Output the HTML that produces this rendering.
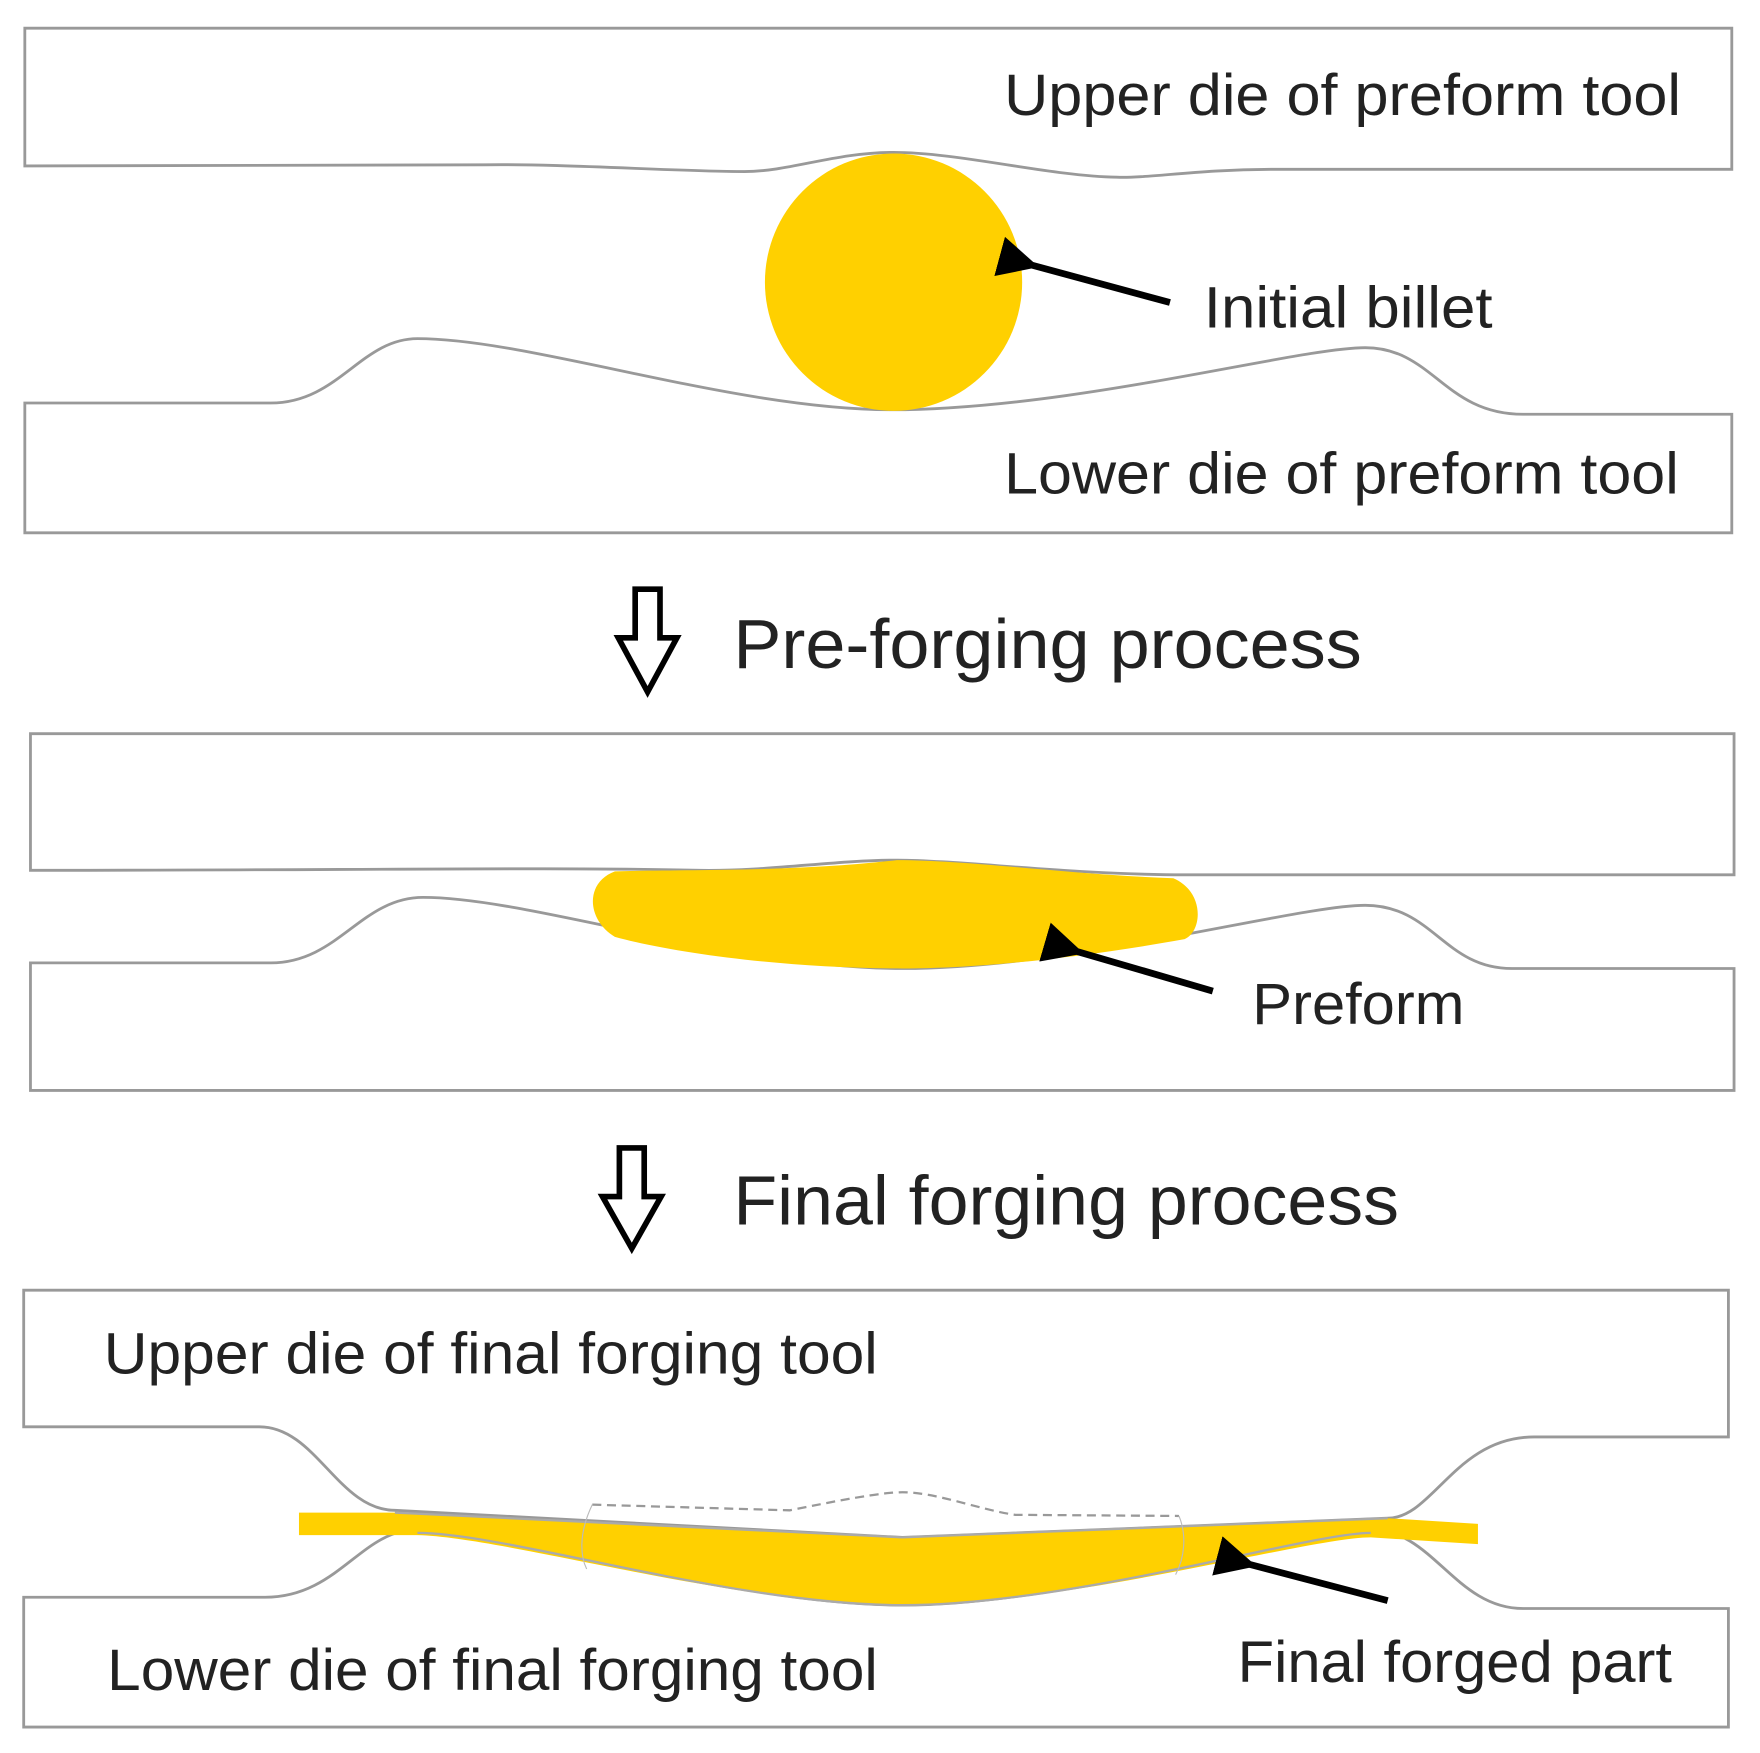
<!DOCTYPE html>
<html><head><style>html,body{margin:0;padding:0;background:#fff}svg{display:block}</style></head>
<body>
<svg width="1760" height="1753" viewBox="0 0 1560 1553" preserveAspectRatio="none" xmlns="http://www.w3.org/2000/svg" font-family="'Liberation Sans',sans-serif">
<defs><marker id="ah" markerWidth="6" markerHeight="6" refX="1" refY="3" orient="auto"><path d="M6,0 L0,3 L6,6 Z" fill="#000"/></marker></defs>
<g fill="#fff" stroke="#999" stroke-width="2.5">
<path d="M22,25 H1535 V150 H1130 C1060,150 1020,158 990,157 C930,156 850,135 792,135 C740,135 700,152 660,152 C600,152 500,145 430,146 L22,147 Z"/>
<path d="M22,357 H240 C300,357 320,300 370,300 C470,300 650,363 790,363 C950,363 1150,308 1210,308 C1270,308 1280,367 1350,367 H1535 V472 H22 Z"/>
<path d="M27,650 H1537 V775 H1050 C950,775 850,762 795,762 C740,762 680,772 620,771 C500,768 300,771 27,771 Z"/>
<path d="M27,853 H240 C300,853 320,795 375,795 C470,795 650,858 800,858 C950,858 1150,802 1210,802 C1270,802 1280,858 1340,858 H1537 V966 H27 Z"/>
<path d="M21,1143 H1532 V1273 H1360 C1290,1273 1270,1345 1230,1345 L800,1362 L350,1338 C300,1338 280,1264 230,1264 H21 Z"/>
<path d="M21,1415 H235 C300,1415 320,1355 370,1355 C450,1355 650,1422 800,1422 C950,1422 1160,1355 1215,1355 C1270,1355 1290,1425 1350,1425 H1532 V1530 H21 Z"/>
</g>
<circle cx="792" cy="250" r="114" fill="#FFD000"/>
<path d="M545,772 C600,770 700,773 795,762 C860,762 950,775 1040,778 C1068,790 1066,825 1050,832 C950,850 860,858 800,858 C700,858 600,845 545,830 C520,815 518,782 545,772 Z" fill="#FFD000"/>
<path d="M265,1340 L350,1340 L800,1362 L1230,1345 L1310,1350 L1310,1368 L1215,1362 C1160,1362 950,1422 800,1422 C650,1422 450,1362 370,1360 L265,1360 Z" fill="#FFD000"/>
<path d="M350,1340 L800,1362 L1230,1345" fill="none" stroke="#aaa" stroke-width="2"/>
<path d="M370,1358 C450,1358 650,1422 800,1422 C950,1422 1160,1358 1215,1358" fill="none" stroke="#aaa" stroke-width="2"/>
<path d="M525,1333 L700,1338 C740,1330 780,1322 800,1322 C830,1322 870,1338 900,1342 L1045,1343" fill="none" stroke="#999" stroke-width="2" stroke-dasharray="8,5"/>
<path d="M525,1333 C512,1360 515,1380 520,1390 M1045,1343 C1052,1360 1050,1380 1042,1395" fill="none" stroke="#bbb" stroke-width="1"/>
<g stroke="#000" stroke-width="6">
<line x1="1037" y1="268" x2="915" y2="235" marker-end="url(#ah)"/>
<line x1="1075" y1="878" x2="955" y2="843" marker-end="url(#ah)"/>
<line x1="1230" y1="1418" x2="1108" y2="1386" marker-end="url(#ah)"/>
</g>
<path d="M563,522 H585 V565 H600 L574,613 L548,565 H563 Z" fill="#fff" stroke="#000" stroke-width="5"/>
<path d="M549,1017 H571 V1060 H586 L560,1106 L534,1060 H549 Z" fill="#fff" stroke="#000" stroke-width="5"/>
<g fill="#222" font-size="52" lengthAdjust="spacingAndGlyphs">
<text x="890" y="102" textLength="600" lengthAdjust="spacingAndGlyphs">Upper die of preform tool</text>
<text x="1067" y="290" textLength="256" lengthAdjust="spacingAndGlyphs">Initial billet</text>
<text x="890" y="437" textLength="598" lengthAdjust="spacingAndGlyphs">Lower die of preform tool</text>
<text x="1110" y="907" textLength="188" lengthAdjust="spacingAndGlyphs">Preform</text>
<text x="92" y="1217" textLength="686" lengthAdjust="spacingAndGlyphs">Upper die of final forging tool</text>
<text x="95" y="1497" textLength="683" lengthAdjust="spacingAndGlyphs">Lower die of final forging tool</text>
<text x="1097" y="1490" textLength="385" lengthAdjust="spacingAndGlyphs">Final forged part</text>
</g>
<g fill="#222" font-size="62">
<text x="650" y="592" textLength="557" lengthAdjust="spacingAndGlyphs">Pre-forging process</text>
<text x="650" y="1085" textLength="590" lengthAdjust="spacingAndGlyphs">Final forging process</text>
</g>
</svg>
</body></html>
